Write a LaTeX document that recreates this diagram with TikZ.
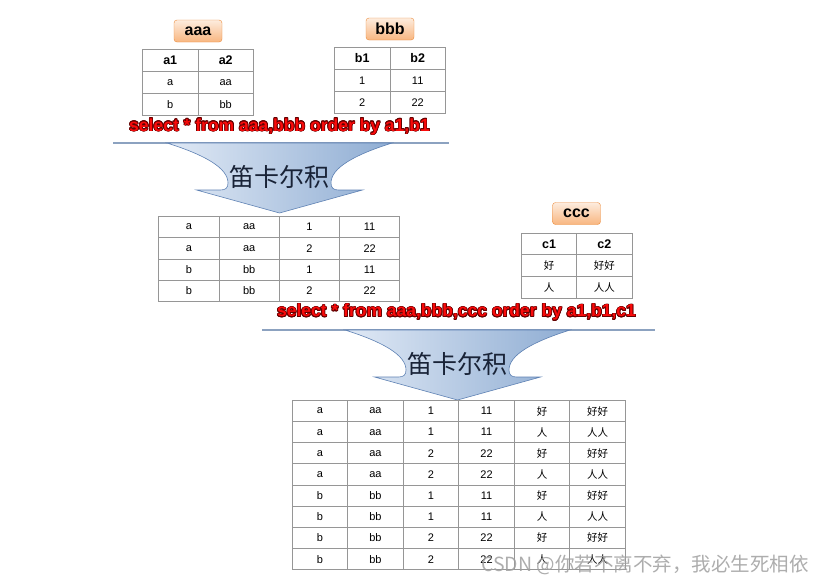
\documentclass[tikz,border=0pt]{standalone}
\usepackage{fontspec}
\setmainfont{Liberation Sans}
\newfontfamily\cjk{Noto Sans CJK SC}
\usepackage{contour}
\contourlength{0.7pt}
\contournumber{16}

\definecolor{tableline}{RGB}{150,150,150}
\definecolor{labeltop}{RGB}{253,236,222}
\definecolor{labelbottom}{RGB}{248,182,128}
\definecolor{labelborder}{RGB}{236,140,60}
\definecolor{sqlred}{RGB}{250,10,10}
\definecolor{sqlshadow}{RGB}{100,0,0}
\definecolor{ruleblue}{RGB}{140,162,192}
\definecolor{arrowleft}{RGB}{224,233,245}
\definecolor{arrowright}{RGB}{143,173,211}
\definecolor{arrowborder}{RGB}{95,130,180}
\definecolor{arrowink}{RGB}{25,35,55}

%% table aaa
\def\aaaX{142}
\def\aaaY{49}
\def\aaaW{55.5}
\def\aaaH{22}
%% table bbb
\def\bbbX{334}
\def\bbbY{47}
\def\bbbW{55.5}
\def\bbbH{22}
%% table ccc
\def\cccX{521}
\def\cccY{232.7}
\def\cccW{55.3}
\def\cccH{21.7}
%% aaa x bbb
\def\abX{158.3}
\def\abY{216}
\def\abW{60.25}
\def\abH{21.25}
%% aaa x bbb x ccc
\def\abcX{291.7}
\def\abcY{400}
\def\abcW{55.55}
\def\abcH{21.16}

\begin{document}
\begin{tikzpicture}[x=1pt, y=-1pt,
    cell/.style 2 args = {draw = tableline, line width = 0.9pt, inner sep = 0pt,
        anchor = north west, minimum width = #1, minimum height = #2,
        font = \fontsize{11}{11}\selectfont},
    headcell/.style 2 args = {cell = {#1}{#2}, font = \bfseries\fontsize{12.5}{12.5}\selectfont},
    cjkcell/.style 2 args = {cell = {#1}{#2}, font = \cjk\fontsize{10.5}{10.5}\selectfont},
    tablabel/.style = {draw = labelborder, rounded corners = 3pt, top color = labeltop,
        bottom color = labelbottom, minimum width = 48pt, minimum height = 22pt,
        inner sep = 0pt, font = \bfseries\fontsize{16}{16}\selectfont},
    sqltext/.style = {text = sqlred, inner sep = 0pt,
        font = \bfseries\fontsize{17.5}{17.5}\selectfont},
    rule/.style = {draw = ruleblue, line width = 1.2pt},
    arrowbody/.style = {draw = arrowborder, line width = 0.6pt,
        left color = arrowleft, right color = arrowright},
    arrowtext/.style = {text = arrowink, inner sep = 0pt,
        font = \cjk\fontsize{25}{25}\selectfont}
    ]
    \fill [white] (0,0) rectangle (826,584);
    \useasboundingbox (0,0) rectangle (826,584);
    %% labels
    \node [tablabel] (aaa-name) at (198,31) {aaa};
    \node [tablabel] (bbb-name) at (390,29) {bbb};
    \node [tablabel] (ccc-name) at (576.5,213.5) {ccc};
    %% table aaa
    \foreach \txt [count=\c from 0] in {a1, a2}
        \node [headcell = {\aaaW pt}{\aaaH pt}] (aaa-0-\c)
        at ({\aaaX+\c*\aaaW},\aaaY) {\txt};
    \foreach \ca/\cb [count=\r] in {a/aa, b/bb} {
        \node [cell = {\aaaW pt}{\aaaH pt}] (aaa-\r-0)
        at (\aaaX,{\aaaY+\r*\aaaH}) {\ca};
        \node [cell = {\aaaW pt}{\aaaH pt}] (aaa-\r-1)
        at ({\aaaX+\aaaW},{\aaaY+\r*\aaaH}) {\cb};
    }
    %% table bbb
    \foreach \txt [count=\c from 0] in {b1, b2}
        \node [headcell = {\bbbW pt}{\bbbH pt}] (bbb-0-\c)
        at ({\bbbX+\c*\bbbW},\bbbY) {\txt};
    \foreach \ca/\cb [count=\r] in {1/11, 2/22} {
        \node [cell = {\bbbW pt}{\bbbH pt}] (bbb-\r-0)
        at (\bbbX,{\bbbY+\r*\bbbH}) {\ca};
        \node [cell = {\bbbW pt}{\bbbH pt}] (bbb-\r-1)
        at ({\bbbX+\bbbW},{\bbbY+\r*\bbbH}) {\cb};
    }
    %% table ccc
    \foreach \txt [count=\c from 0] in {c1, c2}
        \node [headcell = {\cccW pt}{\cccH pt}] (ccc-0-\c)
        at ({\cccX+\c*\cccW},\cccY) {\txt};
    \foreach \ca/\cb [count=\r] in {好/好好, 人/人人} {
        \node [cjkcell = {\cccW pt}{\cccH pt}] (ccc-\r-0)
        at (\cccX,{\cccY+\r*\cccH}) {\ca};
        \node [cjkcell = {\cccW pt}{\cccH pt}] (ccc-\r-1)
        at ({\cccX+\cccW},{\cccY+\r*\cccH}) {\cb};
    }
    %% sql lines
    \draw [rule] (113,143) -- (449,143);
    \draw [rule] (262,330) -- (655,330);
    \node [sqltext] (sql-ab) at (279.5,127)
        {\contour{sqlshadow}{select * from aaa,bbb order by a1,b1}};
    \node [sqltext] (sql-abc) at (456.5,312.7)
        {\contour{sqlshadow}{select * from aaa,bbb,ccc order by a1,b1,c1}};
    %% arrows
    \foreach \cx/\cy in {279.5/143, 457.5/330} {
        \draw [arrowbody]
        (\cx-112.5,\cy)
        .. controls (\cx-74.5,\cy+12) and (\cx-51.5,\cy+25) .. (\cx-51.5,\cy+40)
        .. controls (\cx-51.5,\cy+45) and (\cx-54,\cy+47) .. (\cx-59,\cy+47)
        -- (\cx-83,\cy+47)
        -- (\cx,\cy+70)
        -- (\cx+83,\cy+47)
        -- (\cx+59,\cy+47)
        .. controls (\cx+54,\cy+47) and (\cx+51.5,\cy+45) .. (\cx+51.5,\cy+40)
        .. controls (\cx+51.5,\cy+25) and (\cx+74.5,\cy+12) .. (\cx+112.5,\cy)
        -- cycle;
    }
    \node [arrowtext] (cart-ab) at (279.5,177) {笛卡尔积};
    \node [arrowtext] (cart-abc) at (457.5,364) {笛卡尔积};
    %% aaa x bbb
    \foreach \ca/\cb [count=\i from 0] in {a/aa, b/bb}
    \foreach \cc/\cd [count=\j from 0] in {1/11, 2/22} {
        \pgfmathtruncatemacro\r{2*\i+\j}
        \foreach \txt [count=\c from 0] in {\ca, \cb, \cc, \cd}
            \node [cell = {\abW pt}{\abH pt}] (ab-\r-\c)
            at ({\abX+\c*\abW},{\abY+\r*\abH}) {\txt};
    }
    %% aaa x bbb x ccc
    \foreach \ca/\cb [count=\i from 0] in {a/aa, b/bb}
    \foreach \cc/\cd [count=\j from 0] in {1/11, 2/22}
    \foreach \ce/\cf [count=\k from 0] in {好/好好, 人/人人} {
        \pgfmathtruncatemacro\r{4*\i+2*\j+\k}
        \foreach \txt [count=\c from 0] in {\ca, \cb, \cc, \cd}
            \node [cell = {\abcW pt}{\abcH pt}] (abc-\r-\c)
            at ({\abcX+\c*\abcW},{\abcY+\r*\abcH}) {\txt};
        \foreach \txt [count=\c from 4] in {\ce, \cf}
            \node [cjkcell = {\abcW pt}{\abcH pt}] (abc-\r-\c)
            at ({\abcX+\c*\abcW},{\abcY+\r*\abcH}) {\txt};
    }
    %% watermark
    \node [text = gray!75, opacity = 0.85, inner sep = 0pt,
        font = \cjk\fontsize{19.5}{19.5}\selectfont] (watermark)
        at (645,565) {CSDN @你若不离不弃，我必生死相依};
\end{tikzpicture}
\end{document}
